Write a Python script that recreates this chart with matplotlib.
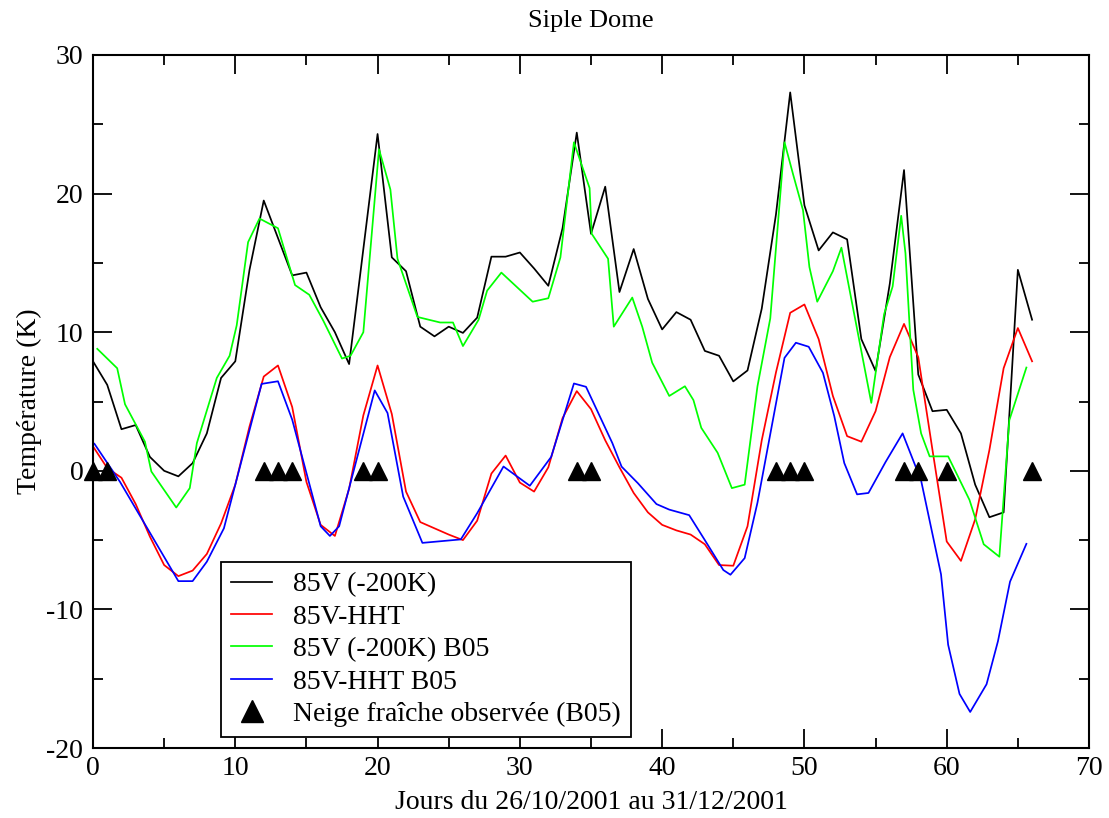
import numpy as np
import matplotlib
matplotlib.use("Agg")
import matplotlib.pyplot as plt

# daily values, days 0..66
days = list(range(67))

black_85v = [7.9, 6.2, 3.0, 3.3, 1.0, 0.0, -0.4, 0.55, 2.7, 6.7,
             7.9, 14.5, 19.5, 16.8, 14.1, 14.3, 11.8, 10.0, 7.7, 16.0,
             24.3, 15.4, 14.4, 10.4, 9.7, 10.4, 9.95, 11.05, 15.45, 15.45,
             15.75, 14.6, 13.35, 17.5, 24.4, 17.1, 20.5, 12.9, 16.0, 12.4,
             10.2, 11.45, 10.9, 8.65, 8.3, 6.45, 7.24, 11.7, 18.5, 27.3,
             19.15, 15.9, 17.2, 16.7, 9.5, 7.2, 13.5, 21.7, 6.95, 4.3,
             4.4, 2.7, -1.0, -3.35, -3.0, 14.5, 10.9]

red_hht = [1.76, 0.2, -0.5, -2.4, -4.75, -6.8, -7.6, -7.2, -6.0, -3.8,
           -1.0, 3.2, 6.8, 7.6, 4.6, -0.8, -3.9, -4.7, -1.3, 4.0,
           7.6, 4.1, -1.5, -3.7, -4.15, -4.6, -5.0, -3.6, -0.2, 1.1,
           -0.85, -1.5, 0.25, 3.8, 5.75, 4.45, 2.2, 0.25, -1.6, -3.0,
           -3.9, -4.3, -4.6, -5.3, -6.8, -6.85, -4.0, 2.2, 7.1, 11.4,
           12.0, 9.5, 5.4, 2.5, 2.1, 4.3, 8.2, 10.6, 8.2, 1.5,
           -5.1, -6.5, -3.5, 1.5, 7.4, 10.3, 7.9]

# B05 series are not on the same time grid
green_x = [0.3, 1.7, 2.25, 3.65, 4.1, 5.85, 6.8, 7.3, 8.7, 9.6,
           10.1, 10.9, 11.7, 13.0, 14.2, 15.2, 16.2, 17.5, 18.1, 19.0,
           20.1, 20.9, 21.4, 22.8, 24.4, 25.3, 26.0, 27.1, 27.7, 28.7,
           30.9, 32.0, 32.85, 33.8, 34.9, 35.05, 36.2, 36.6, 37.9, 38.6,
           39.3, 40.5, 41.6, 42.2, 42.75, 43.9, 44.9, 45.8, 46.7, 47.6,
           48.6, 49.2, 49.9, 50.35, 50.9, 52.0, 52.6, 54.7, 55.6, 56.2,
           56.8, 57.1, 57.65, 58.2, 58.8, 60.1, 61.6, 62.6, 63.7, 64.4,
           65.6]
green_b05 = [8.8, 7.4, 4.8, 2.1, -0.05, -2.65, -1.25, 2.0, 6.7, 8.3,
             10.5, 16.5, 18.2, 17.5, 13.4, 12.7, 10.8, 8.1, 8.3, 10.0,
             23.2, 20.3, 15.3, 11.1, 10.7, 10.7, 9.0, 10.9, 13.0, 14.3,
             12.2, 12.45, 15.4, 23.7, 20.4, 17.1, 15.3, 10.4, 12.5, 10.4,
             7.8, 5.4, 6.1, 5.1, 3.1, 1.3, -1.25, -1.0, 6.1, 11.0,
             23.7, 21.4, 18.8, 14.7, 12.2, 14.4, 16.1, 4.9, 11.3, 13.3,
             18.4, 15.7, 5.85, 2.7, 1.04, 1.04, -2.1, -5.3, -6.2, 3.65,
             7.45]

blue_x = [0.1, 1.9, 6.0, 7.0, 8.0, 9.2, 11.85, 13.0, 14.0, 16.0,
          16.65, 17.3, 19.8, 20.7, 21.8, 23.15, 25.85, 27.0, 28.85, 30.7,
          32.2, 33.8, 34.65, 36.5, 37.15, 38.3, 39.6, 40.5, 41.9, 43.0,
          44.3, 44.8, 45.8, 46.7, 47.7, 48.6, 49.4, 50.3, 51.3, 52.1,
          52.8, 53.7, 54.5, 55.7, 56.9, 58.2, 59.6, 60.1, 60.9, 61.65,
          62.8, 63.6, 64.45, 65.6]
blue_b05 = [1.95, -0.8, -7.96, -7.96, -6.56, -4.15, 6.27, 6.46, 3.69, -4.0,
            -4.7, -4.0, 5.8, 4.17, -1.86, -5.2, -4.95, -3.06, 0.31, -1.08,
            1.0, 6.3, 6.06, 2.0, 0.3, -0.9, -2.4, -2.8, -3.2, -5.0,
            -7.16, -7.5, -6.3, -2.3, 3.2, 8.15, 9.24, 8.95, 7.07, 3.93,
            0.56, -1.7, -1.6, 0.63, 2.7, -0.7, -7.47, -12.55, -16.1, -17.4,
            -15.4, -12.3, -8.0, -5.27]

# fresh snow observed (B05)
snow_days = [0, 1, 12, 13, 14, 19, 20, 34, 35, 48, 49, 50, 57, 58, 60, 66]

plt.rcParams["font.family"] = ["Liberation Serif", "DejaVu Serif"]
plt.rcParams["font.size"] = 20
plt.rcParams["axes.unicode_minus"] = False

fig = plt.figure(figsize=(11.09, 8.18), dpi=100)
ax = fig.add_axes([93 / 1109, 1 - 748 / 818, 996 / 1109, 693 / 818])

lw = 1.25
ax.plot(days, black_85v, color="#000000", lw=lw, label="85V (-200K)")
ax.plot(days, red_hht, color="#ff0000", lw=lw, label="85V-HHT")
ax.plot(green_x, green_b05, color="#00ff00", lw=lw, label="85V (-200K) B05")
ax.plot(blue_x, blue_b05, color="#0000ff", lw=lw, label="85V-HHT B05")
ax.plot(snow_days, np.zeros(len(snow_days)), linestyle="none", marker="^",
        ms=12.5, color="k", clip_on=False, zorder=5,
        label="Neige fraîche observée (B05)")

ax.set_xlim(0, 70)
ax.set_ylim(-20, 30)
ax.set_xticks(range(0, 71, 10))
ax.set_xticks(range(0, 71, 5), minor=True)
ax.set_yticks(range(-20, 31, 10))
ax.set_yticks(range(-20, 31, 5), minor=True)
ax.tick_params(which="both", direction="in", top=True, right=True, width=1.3)
ax.tick_params(which="major", length=14)
ax.tick_params(which="minor", length=7)
ax.tick_params(axis="x", pad=6)
ax.tick_params(axis="y", pad=7)
for sp in ax.spines.values():
    sp.set_linewidth(1.5)

ax.set_title("Siple Dome", pad=20, fontsize=19)
ax.set_xlabel("Jours du 26/10/2001 au 31/12/2001", labelpad=6)
ax.set_ylabel("Température (K)", labelpad=3)

leg = ax.legend(loc="upper left", bbox_to_anchor=(0.1285, 0.268),
                borderaxespad=0, fancybox=False, edgecolor="k",
                framealpha=1, handlelength=1.5, handletextpad=0.75,
                labelspacing=0.25, borderpad=0.35, numpoints=1,
                markerscale=1.25)
leg.get_frame().set_linewidth(1.3)

fig.savefig("out.png", dpi=100)
